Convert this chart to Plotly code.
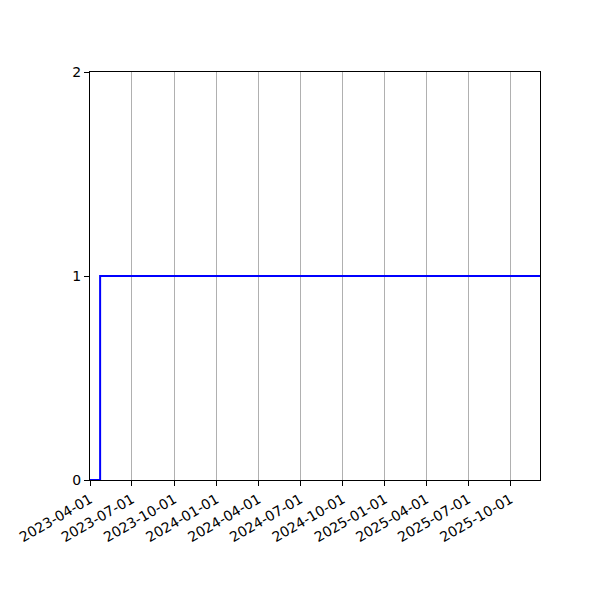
import plotly.graph_objects as go

# step series: 0 until the switch date, then 1 to the end
dates = ["2023-04-01", "2023-04-23", "2025-12-04"]
values = [0, 1, 1]

tick_dates = ["2023-04-01", "2023-07-01", "2023-10-01", "2024-01-01",
              "2024-04-01", "2024-07-01", "2024-10-01", "2025-01-01",
              "2025-04-01", "2025-07-01", "2025-10-01"]
y_ticks = [0, 1, 2]

fig = go.Figure()
fig.add_trace(go.Scatter(x=dates, y=values, mode="lines", line_shape="hv",
                         line=dict(color="#0000ff", width=2)))

# page body adds 8px, so margins are shifted to compensate
fig.update_layout(
    width=600, height=600,
    margin=dict(l=82, r=68, t=64, b=128),
    plot_bgcolor="white", paper_bgcolor="white",
    showlegend=False,
    font=dict(family="DejaVu Sans", size=14, color="black"),
)
fig.update_xaxes(
    type="date", range=[dates[0], dates[-1]], automargin=False,
    tickvals=tick_dates, ticktext=tick_dates, tickangle=-30,
    showgrid=True, gridcolor="#b0b0b0", gridwidth=1,
    showline=True, linecolor="black", linewidth=1, mirror=True,
    ticks="outside", ticklen=5, tickcolor="black", zeroline=False,
)
fig.update_yaxes(
    range=[0, 2], tickvals=y_ticks, showgrid=False, automargin=False,
    showline=True, linecolor="black", linewidth=1, mirror=True,
    ticks="outside", ticklen=5, tickcolor="black", zeroline=False,
)

fig.write_html("out.html")
